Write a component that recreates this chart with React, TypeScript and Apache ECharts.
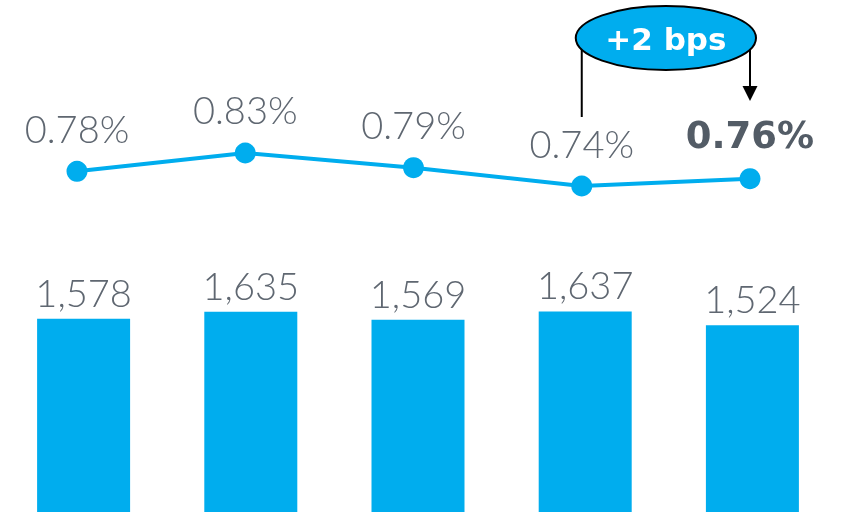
import React, { useEffect, useRef } from "react";
import * as echarts from "echarts";

const categories = ["P1", "P2", "P3", "P4", "P5"];
const barValues = [1578, 1635, 1569, 1637, 1524];
const lineValues = [0.78, 0.83, 0.79, 0.74, 0.76];
const annotationText = "+2 bps";

const BLUE = "#00adee";
const GRAY = "#5f6771";
const FONT = "Lato";
const BOLD_FONT = "DejaVu Sans";

export default function App() {
  const ref = useRef<HTMLDivElement>(null);
  useEffect(() => {
    if (!ref.current) return;
    const chart = echarts.init(ref.current, undefined, { renderer: "svg" });
    chart.setOption({
      animation: false,
      grid: [
        { left: 0, width: 836, top: 267, bottom: -3 },
        { left: 77, right: 91, top: 127.3, bottom: 311.3 },
      ],
      xAxis: [
        { type: "category", gridIndex: 0, data: categories, show: false },
        { type: "category", gridIndex: 1, data: categories, show: false, boundaryGap: false },
      ],
      yAxis: [
        { type: "value", gridIndex: 0, min: 0, max: 2000, show: false },
        { type: "value", gridIndex: 1, min: 0.7, max: 0.9, show: false },
      ],
      series: [
        {
          type: "bar",
          xAxisIndex: 0,
          yAxisIndex: 0,
          data: barValues,
          barWidth: 93,
          itemStyle: { color: BLUE },
          label: {
            show: true,
            position: "top",
            distance: 8,
            color: GRAY,
            fontFamily: FONT,
            fontWeight: 300,
            fontSize: 38,
            formatter: (p: any) => p.value.toLocaleString("en-US"),
          },
        },
        {
          type: "line",
          xAxisIndex: 1,
          yAxisIndex: 1,
          data: lineValues.map((v, i) =>
            i === lineValues.length - 1
              ? {
                  value: v,
                  label: {
                    fontWeight: "bold",
                    color: "#535c66",
                    fontSize: 37,
                    fontFamily: BOLD_FONT,
                  },
                }
              : v
          ),
          symbol: "circle",
          symbolSize: 21,
          itemStyle: { color: BLUE },
          lineStyle: { color: BLUE, width: 4 },
          label: {
            show: true,
            position: "top",
            distance: 14,
            color: GRAY,
            fontFamily: FONT,
            fontWeight: 300,
            fontSize: 38,
            formatter: (p: any) => p.value.toFixed(2) + "%",
          },
        },
      ],
    });

    const p4 = chart.convertToPixel({ seriesIndex: 1 }, [3, lineValues[3]]) as number[];
    const p5 = chart.convertToPixel({ seriesIndex: 1 }, [4, lineValues[4]]) as number[];
    const cx = (p4[0] + p5[0]) / 2;
    const cy = 38;
    const rx = (p5[0] - p4[0]) / 2 + 6;
    chart.setOption({
      graphic: [
        {
          type: "line",
          z: 10,
          shape: { x1: p4[0], y1: cy, x2: p4[0], y2: 117 },
          style: { stroke: "#000", lineWidth: 2 },
        },
        {
          type: "line",
          z: 10,
          shape: { x1: p5[0], y1: cy, x2: p5[0], y2: 88 },
          style: { stroke: "#000", lineWidth: 2 },
        },
        {
          type: "polygon",
          z: 10,
          shape: {
            points: [
              [p5[0] - 7.5, 86],
              [p5[0] + 7.5, 86],
              [p5[0], 101],
            ],
          },
          style: { fill: "#000" },
        },
        {
          type: "ellipse",
          z: 20,
          shape: { cx, cy, rx, ry: 32 },
          style: { fill: BLUE, stroke: "#000", lineWidth: 2 },
        },
        {
          type: "text",
          z: 30,
          x: cx,
          y: cy + 1,
          style: {
            text: annotationText,
            fill: "#fff",
            font: `bold 31px "${BOLD_FONT}"`,
            align: "center",
            verticalAlign: "middle",
          },
        },
      ],
    });
    return () => chart.dispose();
  }, []);
  return (
    <div
      ref={ref}
      style={{ position: "fixed", left: 0, top: 0, width: 841, height: 512 }}
    />
  );
}
